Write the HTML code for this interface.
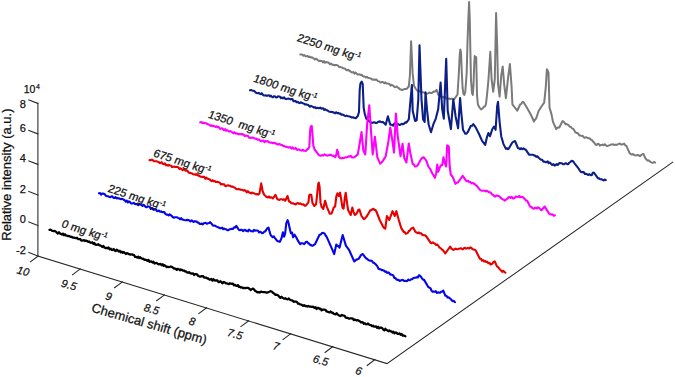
<!DOCTYPE html>
<html><head><meta charset="utf-8"><style>
html,body{margin:0;padding:0;background:#fff;}
svg{display:block;}
text{stroke:#111;stroke-width:0.25px;}
</style></head><body>
<svg width="675" height="377" viewBox="0 0 675 377">
<rect width="675" height="377" fill="#fff"/>
<g stroke="#262626" stroke-width="1.05" fill="none" stroke-linecap="square">
<polyline points="37.9,103.2 37.9,256 387,363.6 672.7,162.2"/>
<line x1="37.9" y1="103.4" x2="28.8" y2="99.9"/>
<line x1="37.9" y1="133.9" x2="28.8" y2="130.4"/>
<line x1="37.9" y1="164.4" x2="28.8" y2="160.9"/>
<line x1="37.9" y1="195.0" x2="28.8" y2="191.5"/>
<line x1="37.9" y1="225.5" x2="28.8" y2="222.0"/>
<line x1="37.9" y1="256.0" x2="28.8" y2="252.5"/>
<line x1="38.2" y1="256.0" x2="30.4" y2="261.8"/>
<line x1="80.3" y1="268.9" x2="72.5" y2="274.8"/>
<line x1="122.4" y1="281.9" x2="114.6" y2="287.7"/>
<line x1="164.5" y1="294.9" x2="156.7" y2="300.7"/>
<line x1="206.6" y1="307.8" x2="198.8" y2="313.6"/>
<line x1="248.7" y1="320.8" x2="240.9" y2="326.6"/>
<line x1="290.8" y1="333.7" x2="283.0" y2="339.5"/>
<line x1="332.9" y1="346.6" x2="325.1" y2="352.4"/>
<line x1="375.0" y1="359.6" x2="367.2" y2="365.4"/>
</g>
<polyline points="300.3,54.6 301.3,54.6 302.4,54.6 303.4,55.8 304.4,55.1 305.5,56.2 306.5,56.3 307.6,56.0 308.6,57.1 309.6,56.6 310.7,57.6 311.7,57.3 312.7,57.7 313.8,58.6 314.8,59.6 315.9,58.7 316.9,59.2 317.9,60.2 319.0,61.1 320.0,60.6 321.0,61.1 322.0,61.0 323.0,62.4 324.0,61.0 325.0,62.8 326.0,62.1 327.0,62.2 328.0,62.4 329.0,63.1 330.0,64.3 331.0,63.5 332.0,64.5 333.0,64.9 334.0,64.8 335.0,65.4 336.0,64.9 337.0,65.2 338.0,65.7 339.0,66.9 340.0,66.9 341.0,67.2 342.1,67.4 343.1,68.3 344.1,68.5 345.2,68.7 346.2,70.0 347.2,70.2 348.3,69.8 349.3,70.8 350.3,71.2 351.4,72.2 352.4,72.4 353.4,72.0 354.5,73.7 355.5,72.5 356.5,73.5 357.6,74.5 358.6,74.5 359.6,74.2 360.7,75.1 361.7,74.7 362.7,76.1 363.7,76.6 364.8,76.6 365.8,77.5 366.8,76.8 367.9,77.8 368.9,77.9 369.9,78.2 370.9,78.4 372.0,79.4 373.0,79.9 374.0,79.4 375.0,80.0 376.1,79.3 377.1,80.4 378.1,81.1 379.2,81.4 380.2,82.4 381.2,82.4 382.3,81.8 383.3,82.4 384.3,83.2 385.4,82.4 386.4,83.6 387.4,83.4 388.5,83.7 389.5,83.9 390.5,85.6 391.6,84.8 392.6,85.4 393.6,86.0 394.7,87.2 395.7,86.9 396.8,86.5 397.8,87.6 398.9,88.2 399.9,89.2 401.0,89.5 402.0,90.0 403.1,89.7 404.3,89.0 405.6,88.9 406.8,88.8 407.8,87.4 408.8,86.6 409.9,75.5 411.1,41.3 412.7,73.9 414.0,85.8 415.9,89.0 417.1,90.5 418.3,91.4 419.5,90.8 420.7,92.2 421.8,91.9 422.8,92.3 423.9,92.5 425.0,93.2 426.0,93.7 427.1,93.8 428.3,93.2 429.5,92.5 430.6,93.1 431.8,93.0 433.0,92.0 434.2,91.5 435.4,91.4 436.6,89.8 438.2,94.6 439.4,95.5 440.6,95.8 441.8,96.6 443.0,97.0 444.1,97.6 445.1,96.7 446.1,98.5 447.2,98.5 448.2,98.9 449.3,98.5 450.5,99.2 451.7,98.7 452.9,98.9 454.1,99.3 457.5,94.5 458.8,74.0 459.7,55.0 460.3,49.5 461.0,52.0 461.8,72.5 462.6,88.0 463.5,94.0 464.3,95.0 465.3,92.0 466.7,72.5 467.5,42.0 468.3,20.0 469.1,1.9 469.8,20.0 470.3,48.0 471.0,80.0 472.0,93.0 472.8,95.0 473.5,85.0 474.2,65.0 474.7,56.0 475.5,58.0 476.2,57.0 476.6,75.0 477.0,95.0 477.9,104.5 479.5,107.5 481.1,109.5 483.0,108.0 484.0,106.5 485.0,106.5 486.0,104.0 487.0,95.0 488.4,80.7 490.3,51.7 491.6,79.1 493.2,91.8 494.8,79.1 496.1,13.1 497.2,47.0 498.0,83.9 499.6,96.6 501.2,75.9 502.7,66.4 504.3,85.5 505.9,98.2 508.3,75.9 509.9,64.0 511.6,86.8 512.4,104.3 514.8,107.5 517.2,110.7 520.3,104.3 521.4,103.8 522.4,102.0 523.5,102.0 525.9,105.9 529.1,111.5 531.5,116.0 533.9,121.5 536.3,118.0 538.6,111.0 541.8,106.0 544.2,102.7 545.8,86.8 546.9,69.3 548.5,72.5 549.5,107.5 551.4,113.9 553.0,121.9 556.2,129.1 557.2,127.8 558.3,127.5 559.3,127.5 562.5,121.1 563.6,121.6 564.6,122.9 565.7,124.3 566.7,124.1 567.8,124.6 568.8,125.5 569.8,126.7 571.0,127.0 572.1,128.5 573.3,128.8 574.5,130.7 575.5,132.4 576.5,132.9 577.5,133.0 578.5,134.2 579.5,135.6 580.6,135.6 581.6,135.9 582.7,135.7 583.8,137.3 584.8,137.8 585.9,137.2 587.1,137.7 588.3,138.3 589.5,138.2 590.7,139.5 591.9,140.0 593.0,141.6 594.2,142.7 595.4,144.3 596.5,145.0 597.5,144.0 598.6,143.8 599.7,145.6 600.7,145.0 601.8,145.1 602.8,144.5 603.8,145.2 604.8,144.2 605.8,145.2 606.8,146.0 607.8,145.8 608.8,145.5 609.8,145.1 610.9,144.6 612.1,144.6 613.2,144.2 614.3,145.1 615.4,144.6 616.6,144.9 617.7,144.3 618.8,143.9 619.8,143.5 620.9,144.5 622.0,144.6 623.0,144.3 624.1,143.5 625.2,145.3 626.4,145.9 629.6,153.1 630.7,154.1 631.8,154.5 633.0,154.0 634.1,155.0 635.2,155.4 636.4,155.3 637.6,155.0 638.8,155.2 640.0,156.2 641.2,155.0 642.3,154.2 643.5,153.9 645.5,158.6 646.5,159.5 647.5,160.6 648.5,160.3 649.5,161.0 650.6,162.1 651.7,162.5 652.9,162.8 654.0,162.0 655.1,162.6" fill="none" stroke="#7a7a7a" stroke-width="1.9949999999999999" stroke-linejoin="round" stroke-linecap="round"/>
<polyline points="250.0,90.2 251.1,90.0 252.1,90.4 253.2,90.7 254.2,91.0 255.3,92.1 256.4,93.0 257.4,93.2 258.5,92.9 259.5,93.5 260.6,94.1 261.7,93.2 262.7,94.6 263.8,95.4 264.8,95.5 265.9,95.3 266.9,95.9 267.9,95.5 268.9,95.2 269.9,96.4 270.9,95.7 271.9,96.7 272.9,97.2 273.9,96.3 275.0,96.4 276.0,97.5 277.0,97.3 278.0,96.4 279.0,96.5 280.0,96.7 281.0,98.2 282.0,97.6 283.1,98.3 284.1,97.3 285.1,98.7 286.2,99.1 287.2,98.7 288.3,98.6 289.3,98.7 290.4,99.4 291.4,99.0 292.4,99.1 293.5,101.2 294.5,101.0 295.5,101.1 296.6,102.2 297.6,101.7 298.6,102.8 299.7,103.1 300.7,102.3 301.8,102.8 302.8,103.2 303.8,103.5 304.9,104.4 305.9,104.2 306.9,104.8 308.0,104.7 309.0,105.7 310.0,106.7 311.0,105.9 312.0,106.4 313.0,106.9 314.1,107.7 315.1,107.1 316.1,108.2 317.1,107.7 318.1,108.0 319.1,108.3 320.1,107.6 321.1,108.6 322.2,108.4 323.2,108.3 324.2,110.0 325.2,109.2 326.2,110.0 327.5,110.5 328.7,111.5 330.0,111.7 331.0,112.0 332.1,111.8 333.1,112.4 334.1,112.6 335.2,113.3 336.2,112.3 337.2,113.3 338.3,112.9 339.3,113.6 340.3,113.5 341.4,114.7 342.4,114.5 343.4,114.9 344.5,115.6 345.5,116.1 346.5,115.6 347.6,116.2 348.6,116.3 349.7,116.6 350.7,116.9 351.8,117.5 352.8,117.3 353.9,117.7 354.9,117.9 356.0,118.2 357.8,116.0 359.0,112.0 359.7,90.0 360.4,83.5 361.7,81.6 362.7,84.0 363.2,96.0 363.7,108.0 364.7,113.5 366.3,118.8 367.5,119.5 368.5,121.0 369.6,121.2 370.6,122.2 371.7,122.9 372.7,122.8 373.8,122.2 374.9,122.5 376.0,123.1 377.1,122.7 378.2,121.9 379.3,121.4 380.4,121.6 381.6,122.3 382.7,121.9 383.8,122.8 385.7,124.7 387.9,116.3 390.3,124.7 391.7,124.7 393.1,125.6 394.5,123.4 395.9,122.8 397.0,123.6 398.2,124.3 399.4,124.9 400.5,124.7 401.7,123.7 402.9,124.2 404.0,123.7 405.2,122.4 406.4,122.6 408.8,119.4 410.5,100.0 411.9,85.0 412.7,110.7 415.1,121.0 416.7,120.2 418.3,99.5 419.5,45.3 421.5,99.5 423.1,119.4 424.7,121.8 425.5,92.2 427.1,110.7 428.6,124.2 431.0,132.2 433.4,124.2 435.8,118.6 438.2,109.1 440.6,82.6 442.2,109.1 443.8,118.6 446.2,58.8 447.7,110.7 450.9,129.0 453.3,99.5 455.7,117.0 458.1,128.2 460.1,98.0 461.4,113.9 463.0,129.8 465.3,133.8 466.5,133.7 467.7,132.2 470.9,125.8 472.1,125.8 473.3,124.2 475.7,127.4 478.9,133.8 482.1,140.9 485.2,144.9 486.8,137.7 488.4,133.0 490.0,136.2 492.4,129.0 494.0,126.6 495.6,129.8 497.2,105.9 498.0,101.9 499.6,121.8 501.2,136.2 503.5,144.1 505.9,148.9 507.0,148.1 508.0,149.2 509.1,148.1 512.3,142.5 513.6,141.6 515.0,141.0 518.0,148.2 519.0,148.2 520.1,149.1 521.1,148.2 522.3,149.2 523.5,148.4 524.7,149.3 525.9,149.8 529.1,154.6 530.3,154.8 531.5,154.7 532.7,154.7 533.9,155.4 535.1,155.6 536.2,156.9 537.4,156.3 538.6,157.7 539.8,158.8 541.0,159.6 542.2,159.8 543.4,161.7 544.5,161.5 545.5,162.2 546.6,162.1 547.7,161.4 548.7,163.2 549.8,162.5 551.0,163.8 552.2,164.9 553.4,164.2 554.6,165.7 555.6,164.9 556.7,164.1 557.8,165.0 558.8,163.7 559.9,163.0 560.9,163.3 562.0,163.3 563.0,164.3 564.1,164.3 565.2,163.4 566.2,163.3 567.3,164.1 568.3,164.1 569.3,162.6 570.4,162.1 571.4,160.9 572.4,161.0 573.5,161.7 574.5,163.3 577.7,167.3 580.3,171.3 581.4,172.1 582.5,172.1 583.7,172.0 584.8,174.0 585.9,173.7 587.1,174.3 588.3,175.0 589.5,174.2 590.7,175.3 591.8,175.0 592.8,172.7 593.9,172.6 597.0,176.9 598.1,178.4 599.1,178.4 600.2,179.3 601.3,179.2 602.4,179.7 603.6,180.5 604.7,179.5 605.8,180.1" fill="none" stroke="#0c1f86" stroke-width="2.1" stroke-linejoin="round" stroke-linecap="round"/>
<polyline points="200.2,122.4 201.2,122.0 202.3,123.1 203.3,122.8 204.3,122.9 205.4,123.3 206.4,123.4 207.4,124.0 208.5,124.5 209.5,124.8 210.5,125.9 211.6,125.4 212.6,126.1 213.6,125.8 214.7,126.4 215.7,127.0 216.7,126.4 217.8,127.2 218.8,127.1 219.9,128.7 220.9,128.6 221.9,128.3 223.0,129.1 224.0,130.3 225.1,129.1 226.1,130.7 227.1,130.3 228.2,130.7 229.2,131.6 230.3,131.1 231.3,131.7 232.3,132.3 233.4,133.1 234.4,132.3 235.5,133.5 236.5,133.2 237.5,133.9 238.6,134.1 239.6,134.0 240.6,134.2 241.7,133.9 242.7,134.4 243.7,134.6 244.8,136.1 245.8,135.6 246.8,135.7 247.9,135.9 248.9,137.5 250.0,137.9 251.0,137.8 252.0,137.5 253.1,137.7 254.1,138.1 255.1,138.7 256.2,138.5 257.2,139.4 258.2,139.6 259.3,139.5 260.3,141.0 261.4,141.3 262.4,140.8 263.4,140.5 264.5,142.1 265.5,141.1 266.6,141.5 267.6,141.1 268.6,142.0 269.7,142.5 270.7,142.8 271.8,142.5 272.8,143.3 273.8,142.7 274.9,143.4 275.9,143.3 277.0,144.2 278.0,144.6 279.0,144.0 280.1,144.2 281.1,145.0 282.1,145.1 283.2,146.0 284.2,146.1 285.2,146.7 286.3,146.8 287.3,147.1 288.4,147.7 289.4,147.0 290.4,147.2 291.5,148.6 292.5,147.3 293.5,148.6 294.6,148.7 295.6,147.9 296.6,149.5 297.7,149.9 298.7,149.4 299.7,149.9 300.8,150.3 301.8,150.6 302.9,149.7 303.9,150.6 305.0,150.8 306.0,151.0 307.3,149.2 308.3,148.7 309.3,147.0 310.2,130.0 310.8,126.5 311.7,125.9 312.4,133.0 313.3,145.5 314.6,149.5 317.3,153.0 318.6,154.8 319.9,155.5 321.1,155.8 322.2,155.1 323.4,155.4 324.6,154.4 325.7,155.1 326.8,155.5 327.9,155.6 328.9,155.1 329.9,154.8 330.9,154.9 331.9,155.6 333.1,155.9 334.2,156.0 335.4,157.2 336.4,154.0 337.2,149.8 338.0,152.0 338.8,156.8 340.0,158.1 341.2,158.2 342.5,158.1 343.7,158.0 345.0,157.5 346.2,157.4 347.4,157.1 348.6,156.4 349.7,156.5 350.8,155.8 351.9,157.4 353.0,157.5 354.1,157.2 355.3,156.3 356.6,155.4 357.8,154.4 359.7,143.2 361.5,132.1 363.4,150.7 365.3,154.4 367.1,124.7 369.3,105.2 370.8,128.4 372.7,154.4 374.9,136.7 377.3,157.2 380.1,163.6 381.5,162.5 382.9,160.9 385.7,156.2 388.4,141.4 390.3,127.5 392.2,139.5 394.0,152.5 395.9,113.6 397.7,135.8 400.5,156.2 402.6,143.8 404.2,157.7 406.4,162.5 408.8,143.5 410.3,153.0 412.7,164.1 413.9,164.5 415.0,166.5 416.4,166.3 417.7,165.2 421.0,159.2 422.3,157.8 423.6,157.2 426.3,160.6 428.3,166.5 430.3,169.2 432.2,173.2 434.9,177.8 436.2,173.2 437.3,164.5 438.2,171.8 440.2,166.5 441.2,165.1 442.2,165.2 443.5,157.2 444.8,163.2 446.2,166.5 447.1,145.3 448.8,146.6 449.7,166.5 450.8,174.5 452.8,177.1 455.5,183.8 456.8,182.7 458.1,182.4 460.8,178.5 462.7,175.8 465.0,179.1 465.7,180.4 466.9,181.2 468.1,180.7 469.3,182.0 470.5,182.0 471.5,183.4 472.6,183.0 473.6,183.5 474.7,184.1 475.7,185.1 476.8,185.9 480.0,189.9 481.2,190.4 482.4,190.8 483.6,190.7 484.8,190.7 485.8,191.4 486.8,190.7 487.8,191.3 488.8,192.3 489.9,192.2 491.0,193.0 492.1,194.6 493.3,194.9 494.4,196.4 495.4,196.5 496.4,195.5 497.5,195.6 498.5,196.0 499.5,196.4 500.5,197.6 501.5,198.5 502.6,199.3 503.6,199.5 504.6,200.7 505.6,200.0 506.6,199.2 507.7,198.5 508.7,197.1 509.7,197.1 510.7,197.9 511.7,196.8 512.8,198.4 513.8,198.4 514.8,197.8 515.9,196.5 517.0,196.8 518.1,197.0 519.2,195.9 520.2,197.3 521.2,196.8 522.3,197.0 523.3,197.5 524.3,198.5 525.8,200.4 527.2,200.7 530.1,206.6 531.3,206.8 532.6,208.2 533.8,208.8 534.9,207.8 536.0,208.1 537.0,208.5 538.1,207.3 539.5,208.1 541.0,210.2 542.2,209.6 543.5,207.8 544.7,206.6 548.3,212.4 549.3,213.8 550.3,214.2 551.3,214.6 552.5,214.3 553.7,215.8 554.9,215.3" fill="none" stroke="#ff00ff" stroke-width="2.1" stroke-linejoin="round" stroke-linecap="round"/>
<polyline points="149.5,160.1 150.5,160.3 151.5,159.7 152.6,159.9 153.6,161.1 154.6,161.2 155.6,161.2 156.6,161.2 157.6,161.8 158.7,162.0 159.7,163.2 160.7,162.8 161.7,162.2 162.8,163.9 163.8,164.3 164.9,163.4 165.9,165.1 166.9,165.0 168.0,165.7 169.0,164.9 170.1,165.4 171.1,165.7 172.1,167.1 173.2,166.7 174.2,166.6 175.3,167.0 176.3,167.0 177.3,166.9 178.4,167.4 179.4,169.0 180.5,168.3 181.5,169.0 182.5,170.2 183.6,169.3 184.6,169.8 185.6,170.6 186.7,170.4 187.7,171.1 188.7,172.6 189.8,172.9 190.8,173.1 191.8,173.2 192.9,174.1 193.9,174.5 195.0,174.2 196.0,174.9 197.0,174.1 198.1,175.7 199.1,175.6 200.1,176.6 201.2,176.8 202.2,176.9 203.2,176.9 204.3,176.8 205.3,178.8 206.4,177.7 207.4,178.7 208.4,178.9 209.5,179.2 210.5,180.3 211.6,181.1 212.6,180.2 213.6,181.3 214.7,181.0 215.7,181.9 216.8,182.0 217.8,181.9 218.8,182.3 219.9,182.7 220.9,184.4 222.0,184.0 223.0,184.4 224.0,184.2 225.1,185.8 226.1,186.2 227.1,185.5 228.2,185.3 229.2,185.7 230.2,185.8 231.3,186.6 232.3,186.5 233.3,187.0 234.4,187.4 235.4,188.2 236.5,189.1 237.5,189.2 238.5,188.9 239.6,189.2 240.6,189.7 241.6,189.8 242.7,190.0 243.7,190.6 244.7,190.1 245.8,190.8 246.8,192.4 247.9,191.2 248.9,192.2 249.9,192.7 251.0,193.5 252.0,192.6 253.1,193.0 254.1,193.3 255.2,193.9 256.2,194.4 257.3,194.0 258.4,194.6 259.5,193.4 261.2,183.4 262.6,191.0 264.0,194.5 265.5,196.0 266.6,197.1 267.8,197.5 268.9,196.4 270.0,197.7 271.4,197.3 272.9,198.5 275.5,194.8 277.3,199.2 278.4,199.6 279.5,199.9 280.6,199.2 281.7,199.2 282.9,199.9 284.1,199.3 285.3,200.7 287.5,196.0 289.0,201.4 290.1,201.7 291.2,203.1 292.3,203.4 293.4,203.3 294.6,204.1 295.7,204.4 296.9,203.2 298.0,203.1 299.2,203.9 300.3,203.4 301.4,204.2 302.5,204.6 303.6,204.4 304.8,205.7 306.0,205.4 308.4,202.4 309.2,195.5 310.0,194.5 311.3,195.0 312.5,203.0 314.3,206.0 316.1,204.2 317.3,192.9 318.2,184.0 318.8,182.6 319.6,187.0 320.5,202.4 321.5,206.6 323.3,209.0 325.1,200.7 326.8,206.6 329.8,213.8 331.6,213.5 333.7,207.6 335.1,206.5 336.4,196.0 337.4,193.3 338.7,196.0 340.1,192.7 341.1,199.0 342.5,207.6 343.6,208.6 344.8,198.0 345.7,192.7 346.8,201.2 348.0,209.7 349.6,212.9 350.7,215.0 352.3,207.6 353.5,211.8 354.9,215.0 356.5,213.9 358.4,209.7 359.4,209.6 361.5,216.0 363.8,219.2 364.9,218.5 365.9,217.3 367.0,216.0 370.2,210.4 371.3,210.3 372.3,209.3 373.4,208.8 374.5,210.0 375.5,210.1 376.6,212.0 379.7,220.0 382.9,226.3 384.1,228.0 385.3,228.7 386.9,216.0 389.3,220.0 392.5,211.2 394.8,216.0 396.4,211.2 398.8,220.0 401.2,227.9 403.6,231.9 404.7,232.0 405.7,233.7 406.8,233.5 407.9,232.7 408.9,231.0 410.0,230.3 411.0,228.7 412.1,228.1 413.1,227.6 415.5,231.9 416.6,232.5 417.8,233.1 418.9,232.4 420.0,233.5 421.1,233.2 422.1,234.5 423.1,235.1 424.2,235.2 425.2,235.4 426.3,236.4 430.5,242.7 431.6,243.2 432.8,242.4 433.9,243.2 435.1,243.8 436.2,245.0 437.4,244.5 438.5,246.0 439.5,247.6 440.6,248.1 441.7,249.3 442.9,250.2 444.1,251.6 445.3,253.5 450.2,246.5 451.3,248.5 452.3,249.1 453.4,249.9 454.4,249.3 455.5,248.6 456.5,249.2 457.6,249.3 458.6,248.7 459.7,248.6 460.8,248.2 461.8,248.9 462.9,249.4 464.0,248.1 465.0,247.8 466.1,248.6 467.2,248.1 468.2,248.1 469.3,248.4 470.3,247.4 471.4,247.8 472.4,249.0 473.5,249.5 474.6,249.7 475.6,250.3 479.9,258.8 481.0,258.8 482.0,260.7 483.1,260.1 484.2,261.5 485.2,261.0 486.3,262.0 487.4,261.9 488.4,263.3 489.5,262.9 490.5,264.5 491.6,264.1 492.7,263.2 493.7,261.7 494.8,261.4 496.9,266.3 497.9,266.9 499.0,268.3 500.1,269.7 501.1,270.5 502.2,271.8 503.2,270.9 504.3,271.9 505.4,272.6" fill="none" stroke="#e80000" stroke-width="2.1" stroke-linejoin="round" stroke-linecap="round"/>
<polyline points="99.0,193.3 100.0,193.1 101.1,194.7 102.1,193.5 103.1,193.6 104.2,193.9 105.2,194.8 106.2,196.0 107.3,196.2 108.3,196.2 109.3,197.0 110.4,197.2 111.4,196.4 112.4,196.4 113.5,198.0 114.5,198.0 115.5,197.0 116.6,198.4 117.6,198.1 118.6,198.4 119.7,198.6 120.7,199.2 121.7,198.9 122.7,199.0 123.8,199.8 124.8,200.3 125.8,201.7 126.8,200.6 127.8,202.4 128.9,201.4 129.9,202.0 130.9,203.2 131.9,203.6 133.0,203.2 134.0,202.8 135.0,204.0 136.1,204.1 137.2,204.1 138.2,205.2 139.3,204.0 140.4,204.5 141.5,204.9 142.5,206.0 143.6,204.8 144.6,205.8 145.6,206.9 146.7,207.2 147.7,206.2 148.7,206.6 149.8,207.0 150.8,208.9 151.8,208.1 152.9,209.3 153.9,209.9 155.0,209.3 156.0,209.5 157.0,211.1 158.1,210.9 159.1,210.6 160.1,211.8 161.2,211.4 162.2,212.1 163.3,212.1 164.3,212.1 165.4,213.9 166.5,214.6 167.5,214.5 168.6,215.5 169.7,214.3 170.7,215.1 171.8,216.0 172.9,217.3 173.9,217.7 175.0,217.3 176.0,217.3 177.1,217.3 178.1,217.9 179.1,218.2 180.1,219.3 181.2,218.2 182.2,219.5 183.2,219.6 184.2,220.0 185.3,220.2 186.3,220.1 187.3,219.9 188.3,220.1 189.4,220.4 190.4,221.4 191.4,220.4 192.5,220.8 193.5,222.0 194.5,221.4 195.5,221.3 196.6,221.5 197.6,222.6 198.6,222.5 199.6,223.9 200.7,224.0 201.7,223.5 202.8,224.4 203.8,223.2 204.9,222.9 205.9,223.0 207.0,223.8 208.1,223.2 209.1,223.0 210.2,222.1 213.0,225.5 214.0,225.7 215.0,225.6 216.1,226.3 217.1,226.9 218.1,227.3 219.1,227.8 220.1,228.3 221.2,228.2 222.2,227.6 223.2,229.2 224.2,228.5 225.2,229.3 226.3,229.3 227.3,230.2 228.3,230.1 229.5,229.3 230.7,229.1 231.8,228.8 233.0,229.0 234.1,227.3 235.2,227.6 236.3,225.9 239.0,230.0 240.0,230.2 241.0,229.8 242.0,229.9 243.0,231.1 244.0,230.2 245.0,229.8 246.0,230.9 247.0,230.6 248.0,231.3 249.0,229.7 250.0,230.4 251.0,231.1 252.0,231.2 253.0,231.4 254.0,229.8 255.0,230.7 256.0,230.5 257.0,230.5 258.0,230.8 259.0,232.4 260.0,231.8 261.1,232.3 262.1,233.3 263.2,232.9 264.3,231.6 265.3,231.4 266.4,229.6 267.4,228.2 268.5,227.6 270.6,235.0 271.7,236.2 272.7,237.2 273.8,236.4 274.8,237.8 277.0,240.7 278.0,241.2 279.0,241.6 280.0,241.7 281.5,238.2 282.9,232.2 284.1,236.7 285.1,233.7 286.3,223.1 287.6,220.1 288.6,223.1 289.6,228.1 290.9,233.2 292.1,232.7 293.1,237.2 294.6,234.7 296.2,237.2 298.2,241.2 300.2,244.2 301.2,243.2 302.2,243.2 303.2,243.5 304.2,244.2 306.2,241.7 307.2,241.8 308.2,243.2 309.2,243.7 310.3,245.2 311.3,245.1 312.3,245.8 313.6,245.2 315.0,244.2 319.4,235.0 320.7,234.6 321.9,233.1 323.2,232.9 324.4,233.4 325.6,235.4 326.8,237.1 331.0,246.6 334.2,254.1 336.3,244.5 337.4,245.9 338.4,246.1 339.5,247.7 342.7,235.0 345.9,245.6 349.0,249.8 354.3,261.5 355.4,260.5 356.4,259.6 357.5,259.4 358.6,258.9 359.6,257.4 360.7,255.4 361.7,254.4 362.8,254.1 366.0,258.3 367.0,258.7 368.0,259.6 369.0,260.4 370.0,260.8 371.1,260.6 372.1,261.2 373.1,262.7 374.2,262.9 375.3,264.0 376.4,265.1 377.4,266.4 378.5,268.8 379.6,269.3 380.7,269.3 381.7,270.1 382.8,270.1 383.8,270.5 384.8,271.7 385.9,271.4 387.0,272.9 388.0,272.4 389.1,272.8 390.1,274.4 391.2,274.6 392.3,274.9 393.3,275.5 394.4,278.0 395.5,278.0 396.5,279.6 397.6,279.9 398.7,279.9 399.7,281.0 400.8,280.4 401.9,280.0 402.9,279.9 404.0,281.0 405.1,280.9 406.1,280.9 407.1,281.2 408.2,279.5 409.2,280.3 410.3,279.9 411.4,279.2 412.4,279.1 413.5,278.0 414.5,277.8 415.6,277.8 416.7,277.3 417.8,277.5 418.8,275.4 419.9,275.6 420.9,276.7 422.0,278.3 423.1,279.7 424.1,279.9 428.4,287.3 429.5,287.6 430.5,288.3 431.6,290.7 432.6,291.6 433.7,291.6 434.8,291.8 435.8,291.2 436.9,293.0 437.9,292.2 439.0,292.6 440.1,292.8 441.1,291.8 442.1,291.6 443.2,290.5 445.4,295.8 446.5,295.8 447.5,297.6 448.6,297.2 449.6,298.2 450.7,299.0 451.8,300.4 452.8,301.2 453.8,300.8 454.9,302.2" fill="none" stroke="#0505ea" stroke-width="2.1" stroke-linejoin="round" stroke-linecap="round"/>
<polyline points="49.5,229.8 50.5,229.7 51.6,230.4 52.6,230.9 53.7,231.1 54.8,231.0 55.8,231.6 56.9,232.8 57.9,233.5 59.0,232.3 60.0,233.5 61.0,233.9 62.0,234.6 63.0,233.6 64.0,235.3 65.0,234.3 66.0,235.5 67.0,235.7 68.0,236.1 69.0,235.9 70.0,236.4 71.0,236.9 72.0,237.0 73.0,237.7 74.0,237.6 75.0,238.0 76.0,238.2 77.0,237.7 78.0,239.1 79.0,239.2 80.1,239.0 81.1,240.3 82.1,240.6 83.1,240.4 84.1,240.2 85.1,241.0 86.1,240.6 87.1,241.0 88.2,241.8 89.2,241.5 90.2,242.5 91.2,242.9 92.2,242.3 93.2,243.7 94.2,243.0 95.2,244.5 96.2,244.9 97.3,244.7 98.3,244.2 99.3,245.3 100.3,245.4 101.3,245.9 102.3,247.0 103.3,245.9 104.4,247.5 105.4,248.0 106.4,247.9 107.5,248.3 108.5,247.5 109.5,249.2 110.5,248.6 111.5,249.8 112.6,250.0 113.6,249.0 114.6,250.4 115.7,251.0 116.7,249.7 117.7,250.5 118.7,251.6 119.8,250.8 120.8,252.4 121.8,251.6 122.8,252.9 123.8,252.0 124.9,253.0 125.9,254.0 126.9,253.1 128.0,253.5 129.0,254.2 130.0,254.5 131.0,254.5 132.0,254.3 133.1,254.9 134.1,255.2 135.1,257.0 136.1,256.8 137.2,257.6 138.2,256.6 139.2,258.0 140.2,257.2 141.2,258.3 142.3,258.8 143.3,258.6 144.3,259.9 145.3,259.7 146.4,260.0 147.4,260.9 148.4,259.9 149.4,261.8 150.4,261.5 151.5,261.4 152.5,262.5 153.5,261.8 154.5,263.5 155.6,263.1 156.6,263.0 157.6,263.6 158.6,264.4 159.6,264.1 160.6,263.9 161.7,265.2 162.7,264.3 163.7,265.9 164.7,265.2 165.7,266.2 166.7,267.1 167.7,266.7 168.7,267.1 169.8,266.8 170.8,266.5 171.8,266.9 172.8,267.4 173.8,268.5 174.8,268.5 175.8,268.9 176.8,269.9 177.8,268.8 178.9,269.3 179.9,270.3 180.9,269.5 181.9,269.8 182.9,270.7 183.9,270.5 184.9,271.3 185.9,271.3 187.0,272.3 188.0,272.6 189.0,272.2 190.0,273.0 191.0,273.5 192.0,273.6 193.1,273.3 194.1,275.0 195.1,274.1 196.1,274.2 197.1,274.4 198.1,275.7 199.2,276.4 200.2,276.6 201.2,276.2 202.2,276.3 203.2,276.1 204.2,277.6 205.3,277.7 206.3,277.6 207.3,278.5 208.3,278.4 209.3,279.6 210.3,279.6 211.4,279.0 212.4,280.5 213.4,279.2 214.4,280.4 215.4,280.5 216.4,280.5 217.5,280.5 218.5,282.1 219.5,281.9 220.5,281.2 221.6,282.4 222.6,283.3 223.6,282.0 224.7,282.3 225.7,283.3 226.7,283.3 227.8,283.7 228.8,284.2 229.8,283.2 230.9,283.7 231.9,283.9 232.9,283.6 234.0,285.3 235.0,284.8 236.0,285.7 237.0,286.0 238.0,285.1 239.0,287.0 240.0,286.8 241.0,287.5 242.0,287.3 243.0,288.1 244.0,287.8 245.0,288.2 246.6,287.8 247.6,287.9 248.6,288.2 249.6,289.0 250.6,290.0 252.2,288.9 253.2,288.6 254.3,289.7 255.3,291.0 256.4,291.5 257.4,292.3 258.5,292.2 259.7,292.5 260.9,291.6 262.1,291.9 263.3,292.1 264.5,292.1 265.7,292.3 266.9,292.8 268.1,292.3 269.3,291.8 270.5,291.2 271.7,291.5 272.9,292.7 274.2,293.6 275.5,294.9 276.8,294.7 278.0,295.2 279.2,296.7 280.4,297.9 281.6,296.8 282.8,297.8 284.0,298.7 285.2,298.2 286.4,299.0 287.6,299.4 288.8,298.5 290.0,299.8 291.2,300.3 292.5,300.4 293.7,301.8 295.0,301.5 296.0,301.7 297.0,302.0 298.0,303.7 299.0,303.7 300.0,304.3 301.0,304.5 302.0,305.0 303.1,305.8 304.1,305.1 305.1,306.0 306.2,306.0 307.2,306.5 308.2,305.9 309.3,306.7 310.3,306.5 311.3,306.9 312.4,306.7 313.4,306.8 314.4,307.9 315.5,307.2 316.5,309.0 317.5,307.9 318.6,308.0 319.6,309.1 320.6,308.7 321.6,310.4 322.6,309.7 323.6,309.6 324.6,309.7 325.6,310.0 326.6,311.5 327.6,311.7 328.6,312.1 329.6,312.4 330.6,311.5 331.6,312.7 332.6,312.6 333.6,313.7 334.6,314.0 335.6,314.4 336.6,313.2 337.6,314.3 338.6,315.3 339.6,315.7 340.6,316.1 341.7,314.9 342.7,315.4 343.7,315.6 344.7,315.8 345.7,317.6 346.7,317.9 347.7,317.9 348.7,318.6 349.8,318.5 350.8,318.3 351.8,318.3 352.8,318.6 353.8,320.1 354.8,319.5 355.8,320.0 356.8,320.5 357.9,320.1 358.9,320.9 359.9,321.3 360.9,322.4 361.9,322.1 362.9,322.3 363.9,323.8 364.9,323.3 365.9,324.3 367.0,324.2 368.0,323.5 369.0,324.5 370.0,325.0 371.0,325.2 372.0,326.1 373.1,325.7 374.1,326.6 375.1,326.6 376.1,326.4 377.1,327.9 378.2,326.8 379.2,328.4 380.2,327.6 381.2,327.6 382.3,328.2 383.3,329.6 384.3,330.3 385.3,328.8 386.3,330.0 387.4,330.3 388.4,331.2 389.4,330.4 390.4,331.3 391.4,331.3 392.5,332.5 393.5,331.8 394.5,333.4 395.5,332.5 396.6,332.7 397.6,333.9 398.6,333.8 399.6,333.4 400.6,334.7 401.7,334.0 402.7,335.6 403.7,335.4 405.4,336.3" fill="none" stroke="#000000" stroke-width="2.2680000000000002" stroke-linejoin="round" stroke-linecap="round"/>
<text x="25.8" y="108.4" font-size="11" text-anchor="end" fill="#111" font-family="Liberation Sans, sans-serif">8</text>
<text x="25.8" y="132.1" font-size="11" text-anchor="end" fill="#111" font-family="Liberation Sans, sans-serif">6</text>
<text x="25.8" y="162.0" font-size="11" text-anchor="end" fill="#111" font-family="Liberation Sans, sans-serif">4</text>
<text x="25.8" y="193.0" font-size="11" text-anchor="end" fill="#111" font-family="Liberation Sans, sans-serif">2</text>
<text x="25.8" y="223.2" font-size="11" text-anchor="end" fill="#111" font-family="Liberation Sans, sans-serif">0</text>
<text x="25.8" y="253.8" font-size="11" text-anchor="end" fill="#111" font-family="Liberation Sans, sans-serif">-2</text>
<text x="23.7" y="92.7" font-size="10.5" fill="#111" font-family="Liberation Sans, sans-serif">10</text>
<text x="35.9" y="88.9" font-size="7" fill="#333" font-family="Liberation Sans, sans-serif">4</text>
<text transform="translate(23.2,271) rotate(15)" x="0" y="3.9" font-size="11" font-style="italic" text-anchor="middle" fill="#111" font-family="Liberation Sans, sans-serif">10</text>
<text transform="translate(69,284.8) rotate(15)" x="0" y="3.9" font-size="11" font-style="italic" text-anchor="middle" fill="#111" font-family="Liberation Sans, sans-serif">9.5</text>
<text transform="translate(108.6,296.3) rotate(15)" x="0" y="3.9" font-size="11" font-style="italic" text-anchor="middle" fill="#111" font-family="Liberation Sans, sans-serif">9</text>
<text transform="translate(151.6,309) rotate(15)" x="0" y="3.9" font-size="11" font-style="italic" text-anchor="middle" fill="#111" font-family="Liberation Sans, sans-serif">8.5</text>
<text transform="translate(192.2,321.2) rotate(15)" x="0" y="3.9" font-size="11" font-style="italic" text-anchor="middle" fill="#111" font-family="Liberation Sans, sans-serif">8</text>
<text transform="translate(235,334) rotate(15)" x="0" y="3.9" font-size="11" font-style="italic" text-anchor="middle" fill="#111" font-family="Liberation Sans, sans-serif">7.5</text>
<text transform="translate(276.2,346) rotate(15)" x="0" y="3.9" font-size="11" font-style="italic" text-anchor="middle" fill="#111" font-family="Liberation Sans, sans-serif">7</text>
<text transform="translate(320.7,360.3) rotate(15)" x="0" y="3.9" font-size="11" font-style="italic" text-anchor="middle" fill="#111" font-family="Liberation Sans, sans-serif">6.5</text>
<text transform="translate(358.7,370.8) rotate(15)" x="0" y="3.9" font-size="11" font-style="italic" text-anchor="middle" fill="#111" font-family="Liberation Sans, sans-serif">6</text>
<text transform="translate(11.3,240.7) rotate(-90)" x="0" y="0" font-size="13" fill="#111" font-family="Liberation Sans, sans-serif">Relative intensity (a.u.)</text>
<text transform="translate(90.8,311.6) rotate(16)" x="0" y="0" font-size="13" fill="#111" font-family="Liberation Sans, sans-serif">Chemical shift (ppm)</text>
<text transform="translate(60.8,226.8) rotate(18) skewX(-5)" font-size="11.4" fill="#111" font-family="Liberation Sans, sans-serif">0 mg kg<tspan font-size="7" dx="0.2" dy="-3.9">-1</tspan></text>
<text transform="translate(106.9,191.6) rotate(18) skewX(-5)" font-size="11.4" fill="#111" font-family="Liberation Sans, sans-serif">225 mg kg<tspan font-size="7" dx="0.2" dy="-3.9">-1</tspan></text>
<text transform="translate(152.4,156.2) rotate(18) skewX(-5)" font-size="11.4" fill="#111" font-family="Liberation Sans, sans-serif">675 mg kg<tspan font-size="7" dx="0.2" dy="-3.9">-1</tspan></text>
<text transform="translate(207.3,117.4) rotate(18) skewX(-5)" font-size="11.4" fill="#111" font-family="Liberation Sans, sans-serif">1350&#160; mg kg<tspan font-size="7" dx="0.2" dy="-3.9">-1</tspan></text>
<text transform="translate(252.6,81.4) rotate(18) skewX(-5)" font-size="11.4" fill="#111" font-family="Liberation Sans, sans-serif">1800 mg kg<tspan font-size="7" dx="0.2" dy="-3.9">-1</tspan></text>
<text transform="translate(296.2,40.8) rotate(18) skewX(-5)" font-size="11.4" fill="#111" font-family="Liberation Sans, sans-serif">2250 mg kg<tspan font-size="7" dx="0.2" dy="-3.9">-1</tspan></text>
</svg>
</body></html>
